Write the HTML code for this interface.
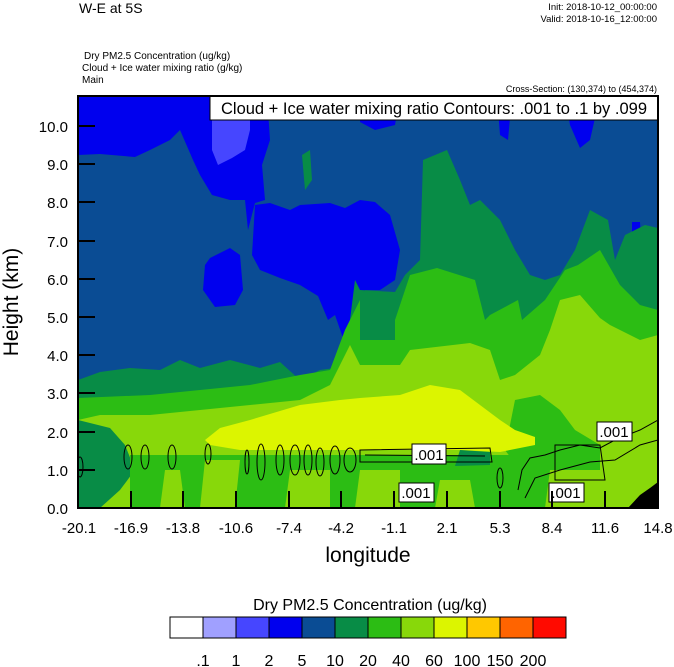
<!DOCTYPE html>
<html><head><meta charset="utf-8"><style>
body{margin:0;background:#fff;width:674px;height:667px;overflow:hidden}
svg{display:block;font-family:"Liberation Sans",sans-serif}
</style></head><body>
<svg width="674" height="667" viewBox="0 0 674 667" xmlns="http://www.w3.org/2000/svg">
<text x="79" y="13" font-size="14">W-E at 5S</text>
<text x="657" y="10" font-size="9.5" text-anchor="end">Init: 2018-10-12_00:00:00</text>
<text x="657" y="22" font-size="9.5" text-anchor="end">Valid: 2018-10-16_12:00:00</text>
<text x="84" y="59" font-size="10">Dry PM2.5 Concentration   (ug/kg)</text>
<text x="82" y="71" font-size="10">Cloud + Ice water mixing ratio   (g/kg)</text>
<text x="82" y="83" font-size="10">Main</text>
<text x="657" y="92" font-size="9" text-anchor="end">Cross-Section: (130,374) to (454,374)</text>
<defs><clipPath id="c"><rect x="78" y="96" width="580" height="412"/></clipPath></defs>
<g clip-path="url(#c)">
<rect x="78" y="96" width="580" height="412" fill="#0a4c94"/>
<path fill="#0000ee" d="M78,96 L267,96 L270,140 L262,165 L265,200 L255,203 L248,230 L245,200 L230,200 L212,195 L200,175 L193,160 L180,130 L170,140 L150,150 L135,157 L100,154 L78,155 Z"/>
<path fill="#0000ee" d="M210,258 L230,248 L240,255 L243,290 L235,305 L215,307 L203,290 L205,265 Z"/>
<path fill="#0000ee" d="M255,205 L270,203 L290,210 L300,205 L330,203 L345,208 L360,200 L375,202 L390,215 L400,250 L395,280 L380,290 L365,290 L360,330 L353,342 L343,338 L335,315 L328,320 L318,296 L300,285 L280,278 L260,270 L252,255 Z"/>
<path fill="#0000ee" d="M360,96 L400,96 L395,125 L375,130 L360,122 Z M497,96 L512,96 L508,140 L500,135 Z M565,96 L600,96 L590,140 L580,148 L570,125 Z M632,222 L640,222 L642,255 L632,255 Z"/>
<path fill="#4646ff" d="M212,96 L255,96 L250,110 L250,130 L245,150 L232,158 L218,165 L212,150 Z"/>
<path fill="#088c46" d="M78,380 L100,372 L130,368 L160,370 L180,360 L200,368 L230,360 L260,368 L280,362 L300,380 L320,370 L335,368 L345,360 L350,320 L355,280 L360,290 L395,292 L405,275 L420,260 L423,160 L447,150 L460,180 L470,205 L480,200 L500,220 L515,250 L530,275 L545,280 L560,275 L575,250 L590,210 L608,220 L615,260 L625,235 L645,225 L658,228 L658,508 L78,508 Z"/>
<path fill="#088c46" d="M302,155 L310,150 L312,180 L305,190 Z"/>
<path fill="#2cbd14" d="M78,398 L150,395 L200,390 L250,385 L300,375 L330,370 L345,330 L360,300 L360,340 L395,340 L395,320 L410,275 L437,268 L475,280 L485,320 L490,315 L518,300 L522,320 L545,300 L565,270 L578,265 L600,250 L620,285 L640,305 L658,310 L658,508 L78,508 Z"/>
<path fill="#88d80a" d="M78,420 L100,415 L150,415 L200,410 L250,405 L300,400 L330,385 L350,345 L360,365 L400,365 L410,350 L470,343 L490,350 L500,380 L515,375 L540,355 L550,330 L560,300 L580,295 L600,318 L610,325 L640,340 L658,335 L658,508 L78,508 Z"/>
<path fill="#2cbd14" d="M515,400 L540,395 L560,410 L575,430 L600,445 L600,470 L520,470 L505,450 Z"/>
<path fill="#088c46" d="M78,420 L110,428 L125,445 L135,470 L120,490 L100,508 L78,508 Z"/>
<path fill="#dcf500" d="M205,440 L220,428 L250,420 L300,405 L340,400 L360,398 L400,395 L430,385 L460,390 L480,405 L500,420 L515,430 L535,437 L535,445 L500,452 L460,450 L400,450 L370,450 L240,450 L210,445 Z"/>
<path fill="#2cbd14" d="M130,455 L560,455 L560,470 L600,470 L600,508 L130,508 Z"/>
<path fill="#88d80a" d="M165,470 L180,470 L185,508 L160,508 Z M205,460 L240,460 L235,508 L200,508 Z M290,470 L330,470 L330,508 L285,508 Z M360,470 L400,470 L400,508 L355,508 Z M440,480 L470,480 L475,508 L435,508 Z M550,470 L600,470 L610,508 L545,508 Z M600,440 L658,420 L658,508 L600,508 Z"/>
<path fill="#088c46" d="M460,450 L490,452 L490,465 L455,466 Z"/>
<path fill="#000" d="M628,508 L640,495 L650,488 L658,482 L658,508 Z"/>
<g fill="none" stroke="#000" stroke-width="1">
<ellipse cx="80" cy="467" rx="3" ry="10"/><ellipse cx="128" cy="457" rx="4" ry="12"/><ellipse cx="145" cy="457" rx="4" ry="12"/><ellipse cx="172" cy="457" rx="4" ry="12"/>
<ellipse cx="208" cy="454" rx="3" ry="10"/><ellipse cx="247" cy="462" rx="2" ry="12"/><ellipse cx="261" cy="462" rx="4" ry="18"/><ellipse cx="280" cy="460" rx="4" ry="15"/>
<ellipse cx="295" cy="460" rx="5" ry="15"/><ellipse cx="308" cy="460" rx="4" ry="15"/><ellipse cx="320" cy="462" rx="4" ry="14"/><ellipse cx="335" cy="460" rx="5" ry="14"/><ellipse cx="350" cy="460" rx="6" ry="12"/>
<path d="M360,450 L490,448 L492,462 L360,462 Z M365,455 L485,456"/>
<ellipse cx="500" cy="478" rx="3" ry="10"/>
<path d="M518,490 L522,470 L530,458 L545,455 L560,450 L580,445 L600,448 L615,440 L640,430 L658,420 M525,498 L535,478 L560,470 L590,462 L615,460 L640,445 L658,440"/>
<path d="M555,445 L600,445 L605,480 L555,480 Z"/>
</g>
</g>
<g stroke="#000" stroke-width="1" fill="#fff" font-size="15">
<rect x="412" y="444" width="34" height="20"/><rect x="399" y="483" width="35" height="19"/><rect x="549" y="483" width="35" height="19"/><rect x="597" y="422" width="35" height="19"/>
</g>
<g font-size="15" text-anchor="middle">
<text x="429" y="460">.001</text><text x="416" y="498">.001</text><text x="566" y="498">.001</text><text x="614" y="437">.001</text>
</g>
<rect x="210" y="96" width="448" height="24" fill="#fff" stroke="#000"/>
<text x="434" y="114" font-size="16.5" text-anchor="middle">Cloud + Ice water mixing ratio Contours: .001 to .1 by .099</text>
<rect x="78" y="96" width="580" height="412" fill="none" stroke="#000" stroke-width="2"/>
<g stroke="#000" stroke-width="2">
<path d="M78,126h17M78,164h17M78,202h17M78,241h17M78,279h17M78,317h17M78,355h17M78,393h17M78,432h17M78,470h17"/>
<path d="M131,508v-17M183,508v-17M236,508v-17M289,508v-17M341,508v-17M394,508v-17M447,508v-17M500,508v-17M552,508v-17M605,508v-17"/>
</g>
<g font-size="15" text-anchor="end">
<text x="68" y="132">10.0</text><text x="68" y="170">9.0</text><text x="68" y="208">8.0</text><text x="68" y="247">7.0</text><text x="68" y="285">6.0</text><text x="68" y="323">5.0</text><text x="68" y="361">4.0</text><text x="68" y="399">3.0</text><text x="68" y="438">2.0</text><text x="68" y="476">1.0</text><text x="68" y="514">0.0</text>
</g>
<g font-size="15" text-anchor="middle">
<text x="79" y="533">-20.1</text><text x="131" y="533">-16.9</text><text x="183" y="533">-13.8</text><text x="236" y="533">-10.6</text><text x="289" y="533">-7.4</text><text x="341" y="533">-4.2</text><text x="394" y="533">-1.1</text><text x="447" y="533">2.1</text><text x="500" y="533">5.3</text><text x="552" y="533">8.4</text><text x="605" y="533">11.6</text><text x="658" y="533">14.8</text>
</g>
<text x="368" y="562" font-size="21" text-anchor="middle">longitude</text>
<text transform="translate(18,302) rotate(-90)" font-size="21" text-anchor="middle">Height (km)</text>
<text x="370" y="610" font-size="16" text-anchor="middle">Dry PM2.5 Concentration  (ug/kg)</text>
<g stroke="#000" stroke-width="1">
<rect x="170" y="617" width="33" height="21" fill="#fff"/><rect x="203" y="617" width="33" height="21" fill="#a0a0ff"/><rect x="236" y="617" width="33" height="21" fill="#4646ff"/><rect x="269" y="617" width="33" height="21" fill="#0000ee"/><rect x="302" y="617" width="33" height="21" fill="#0a4c94"/><rect x="335" y="617" width="33" height="21" fill="#088c46"/><rect x="368" y="617" width="33" height="21" fill="#2cbd14"/><rect x="401" y="617" width="33" height="21" fill="#88d80a"/><rect x="434" y="617" width="33" height="21" fill="#dcf500"/><rect x="467" y="617" width="33" height="21" fill="#ffc800"/><rect x="500" y="617" width="33" height="21" fill="#ff6400"/><rect x="533" y="617" width="33" height="21" fill="#ff0a00"/>
</g>
<g font-size="16" text-anchor="middle">
<text x="203" y="666">.1</text><text x="236" y="666">1</text><text x="269" y="666">2</text><text x="302" y="666">5</text><text x="335" y="666">10</text><text x="368" y="666">20</text><text x="401" y="666">40</text><text x="434" y="666">60</text><text x="467" y="666">100</text><text x="500" y="666">150</text><text x="533" y="666">200</text>
</g>
</svg>
</body></html>
